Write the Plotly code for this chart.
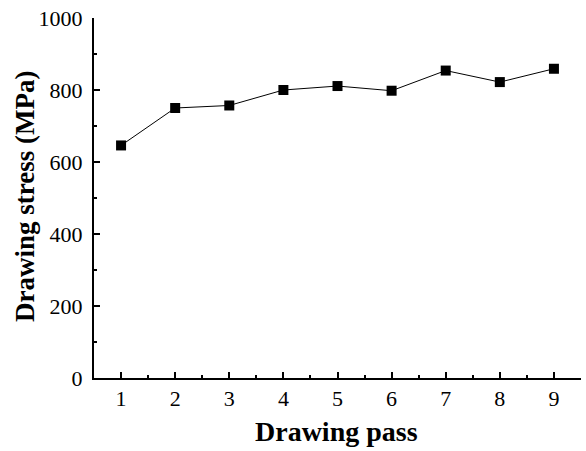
import plotly.graph_objects as go

passes = [1, 2, 3, 4, 5, 6, 7, 8, 9]
stress = [646, 750, 757, 800, 811, 798, 854, 822, 859]
x_title = "Drawing pass"
y_title = "Drawing stress (MPa)"

fig = go.Figure()
fig.add_trace(go.Scatter(
    x=passes, y=stress, mode="lines+markers",
    line=dict(color="black", width=1),
    marker=dict(symbol="square", size=10, color="black"),
    showlegend=False,
))

font = dict(family="Liberation Serif, Times New Roman, serif", color="black")
fig.update_layout(
    width=586, height=451,
    margin=dict(l=94, r=5, t=18, b=73),
    paper_bgcolor="white", plot_bgcolor="white",
    font=dict(**font, size=22),
)
fig.update_xaxes(
    range=[0.5, 9.5], tickvals=passes, showgrid=False, zeroline=False,
    showline=True, linecolor="black", linewidth=2, automargin=False,
    ticks="inside", ticklen=6, tickwidth=2, tickcolor="black",
    minor=dict(ticks="inside", ticklen=3, tickwidth=2, tickcolor="black", dtick=0.5, tick0=0.5, showgrid=False),
    tickfont=dict(**font, size=22),
)
fig.update_yaxes(
    range=[0, 1000], dtick=200, showgrid=False, zeroline=False,
    showline=True, linecolor="black", linewidth=2, automargin=False,
    ticks="inside", ticklen=6, tickwidth=2, tickcolor="black",
    minor=dict(ticks="inside", ticklen=3, tickwidth=2, tickcolor="black", dtick=100, showgrid=False),
    tickfont=dict(**font, size=22), ticklabelstandoff=5,
)
fig.add_annotation(
    text="<b>" + x_title + "</b>", xref="paper", yref="paper",
    x=(336 - 94) / 487, y=-(431 - 378) / 360, xanchor="center", yanchor="middle",
    showarrow=False, font=dict(**font, size=28),
)
fig.add_annotation(
    text="<b>" + y_title + "</b>", xref="paper", yref="paper",
    x=-(94 - 25) / 487, y=(378 - 197) / 360, xanchor="center", yanchor="middle",
    textangle=-90, showarrow=False, font=dict(**font, size=27),
)
fig.write_html(
    "out.html",
    config={"displayModeBar": False},
    post_script="document.body.style.margin='0';document.body.style.overflow='hidden';",
)
